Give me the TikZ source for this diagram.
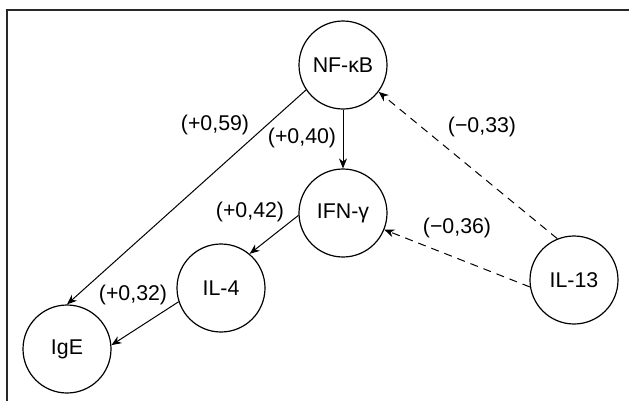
\documentclass[tikz,border=0pt]{standalone}
\usepackage{fontspec}
\setmainfont{Liberation Sans}
\usetikzlibrary{arrows.meta}

\begin{document}
\begin{tikzpicture}[x=0.75pt,y=0.75pt,yscale=-1,xscale=1,
  factor/.style={draw, circle, line width=0.9pt, minimum size=66pt, inner sep=0pt, font=\fontsize{16}{19}\selectfont},
  coef/.style={inner sep=0.75pt, font=\fontsize{16}{19}\selectfont},
  effect/.style={-{Stealth[length=7.5pt,width=6pt]}, line width=0.75pt},
  inhibit/.style={effect, dash pattern={on 6pt off 4.5pt}}]
\useasboundingbox (0,0) rectangle (629,401);

%Frame
\draw [color={rgb, 255:red, 40; green, 40; blue, 40 }, line width=1.5pt] (6.5,401) -- (6.5,9.5) -- (629,9.5) ;

% Circle Nodes
\node [factor] (nfkb) at (343,65) {NF-κB};
\node [factor] (ifng) at (343,213) {IFN-γ};
\node [factor] (il4) at (221,288) {IL-4};
\node [factor] (ige) at (67,349) {IgE};
\node [factor] (il13) at (574,280) {IL-13};

%Straight Lines
\draw [effect] (nfkb.214) -- (ige.north) ;
\draw [effect] (nfkb.south) -- (ifng.north) ;
\draw [effect] (ifng.183) -- (il4.50) ;
\draw [effect] (il4.198) -- (ige.5) ;
%Dashed Lines
\draw [inhibit] (il13.112) -- (nfkb.323) ;
\draw [inhibit] (il13.189) -- (ifng.338) ;

% Text Node
\node [coef] (c59) at (215,125) {(+0,59)};
% Text Node
\node [coef] (c40) at (302,138) {(+0,40)};
% Text Node
\node [coef] (c42) at (250,212) {(+0,42)};
% Text Node
\node [coef] (c32) at (133,295) {(+0,32)};
% Text Node
\node [coef] (c33) at (482,127) {(−0,33)};
% Text Node
\node [coef] (c36) at (457,228) {(−0,36)};

\end{tikzpicture}
\end{document}
